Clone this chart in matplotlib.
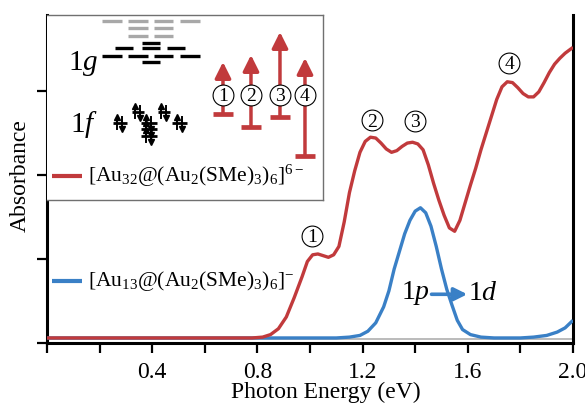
import matplotlib
matplotlib.use('Agg')

import matplotlib.pyplot as plt
import numpy as np

plt.rcParams['font.family'] = ['Liberation Serif', 'DejaVu Serif']
plt.rcParams['mathtext.fontset'] = 'custom'
plt.rcParams['mathtext.rm'] = 'Liberation Serif'
plt.rcParams['mathtext.it'] = 'Liberation Serif:italic'

# spectra (photon energy in eV, absorbance in arb. units)
red_x = [0.00, 0.40, 0.78, 0.82, 0.85, 0.88, 0.91, 0.94, 0.97, 0.99, 1.01, 1.03, 1.05,
         1.07, 1.09, 1.11, 1.13, 1.15, 1.17, 1.19, 1.21, 1.23, 1.25, 1.27, 1.29, 1.31,
         1.33, 1.35, 1.37, 1.39, 1.41, 1.43, 1.45, 1.47, 1.49, 1.51, 1.53, 1.55, 1.57,
         1.59, 1.61, 1.63, 1.65, 1.67, 1.69, 1.71, 1.73, 1.75, 1.77, 1.79, 1.81, 1.83,
         1.85, 1.87, 1.89, 1.91, 1.93, 1.95, 1.97, 2.00]
red_y = [0.06, 0.06, 0.06, 0.07, 0.10, 0.17, 0.31, 0.54, 0.79, 0.97, 1.05, 1.06, 1.04,
         1.02, 1.05, 1.15, 1.44, 1.79, 2.05, 2.27, 2.40, 2.45, 2.44, 2.38, 2.31, 2.27,
         2.29, 2.34, 2.38, 2.39, 2.37, 2.30, 2.12, 1.90, 1.70, 1.52, 1.37, 1.33, 1.46,
         1.67, 1.88, 2.08, 2.30, 2.50, 2.70, 2.90, 3.05, 3.11, 3.10, 3.04, 2.97, 2.93,
         2.93, 2.99, 3.10, 3.22, 3.32, 3.39, 3.45, 3.52]

blue_x = [0.00, 1.10, 1.15, 1.19, 1.22, 1.25, 1.28, 1.30, 1.32, 1.34, 1.36, 1.38, 1.40,
          1.42, 1.44, 1.46, 1.48, 1.50, 1.52, 1.54, 1.56, 1.58, 1.61, 1.65, 1.70, 1.80,
          1.85, 1.90, 1.94, 1.97, 2.00]
blue_y = [0.06, 0.06, 0.07, 0.09, 0.14, 0.24, 0.43, 0.62, 0.88, 1.09, 1.30, 1.46, 1.57,
          1.61, 1.55, 1.39, 1.15, 0.88, 0.64, 0.45, 0.27, 0.16, 0.10, 0.07, 0.06, 0.06,
          0.07, 0.09, 0.13, 0.18, 0.27]

peak_labels = ['1', '2', '3', '4']
peak_pos = [(1.008, 1.27), (1.236, 2.65), (1.399, 2.64), (1.757, 3.33)]

xticks = [0.0, 0.2, 0.4, 0.6, 0.8, 1.0, 1.2, 1.4, 1.6, 1.8, 2.0]
xticklabels = ['', '', '0.4', '', '0.8', '', '1.2', '', '1.6', '', '2.0']

red = '#c13a3c'
blue = '#3a80c6'

fig = plt.figure(figsize=(5.85, 4.03), dpi=100)
ax = fig.add_axes([0.0803, 0.1489, 0.8992, 0.8139])

ax.axhline(0.05, color='#b5b5b5', lw=1.3, zorder=1)
ax.plot(blue_x, blue_y, color=blue, lw=2.4, zorder=3, solid_capstyle='butt')
ax.plot(red_x, red_y, color=red, lw=2.4, zorder=4, solid_capstyle='butt')

for lab, (px, py) in zip(peak_labels, peak_pos):
    ax.plot(px, py, marker='o', ms=15, mfc='white', mec='black', mew=0.8, zorder=5)
    ax.text(px, py - 0.02, lab, ha='center', va='center', fontsize=14, zorder=6)

# 1p -> 1d transition
ax.text(1.456, 0.59, '1$p$', ha='right', va='center', fontsize=20)
ax.annotate('', xy=(1.598, 0.58), xytext=(1.462, 0.58),
            arrowprops=dict(arrowstyle='-|>,head_length=0.6,head_width=0.3',
                            color=blue, lw=2.6, mutation_scale=13, shrinkA=0, shrinkB=0))
ax.text(1.60, 0.59, '1$d$', ha='left', va='center', fontsize=20)

ax.set_xlim(0, 2.0)
ax.set_ylim(0, 3.905)
ax.set_xticks(xticks)
ax.set_xticklabels(xticklabels, fontsize=17)
ax.set_yticks([0, 1, 2, 3])
ax.set_yticklabels([])
ax.tick_params(axis='both', direction='out', length=7, width=1.6, color='black')
ax.tick_params(axis='x', pad=7)
for s in ['left', 'bottom', 'right']:
    ax.spines[s].set_linewidth(2.2)
    ax.spines[s].set_color('black')
ax.spines['top'].set_visible(False)
ax.set_xlabel('Photon Energy (eV)', fontsize=17)
ax.xaxis.set_label_coords(0.53, -0.118)
ax.set_ylabel('Absorbance', fontsize=17)
ax.yaxis.set_label_coords(-0.03, 0.51)

# blue legend entry (outside the box)
ax.plot([0.0095, 0.0665], [0.189, 0.189], color=blue, lw=3, transform=ax.transAxes,
        solid_capstyle='butt')
ax.text(0.078, 0.189, '[Au$_{13}$@(Au$_2$(SMe)$_3$)$_6$]$^{-}$', fontsize=15.5,
        va='center', ha='left', transform=ax.transAxes)

# inset box with the energy-level scheme
ins = fig.add_axes([0.0803, 0.5037, 0.4718, 0.459])
ins.set_xlim(0, 276)
ins.set_ylim(185, 0)
ins.set_facecolor('white')
ins.set_xticks([])
ins.set_yticks([])
for s in ['top', 'right', 'bottom']:
    ins.spines[s].set_color('#707070')
    ins.spines[s].set_linewidth(1.0)
ins.spines['left'].set_visible(False)

gray_levels = [(6, [(55, 75), (81, 101), (107, 126), (133, 153)]),
               (13, [(81, 101), (107, 126)]),
               (21, [(81, 101), (107, 126)])]
for yy, segs in gray_levels:
    for a, b in segs:
        ins.plot([a, b], [yy, yy], color='#a8a8a8', lw=2.4, solid_capstyle='butt')

g_levels = [(28, [(95, 113)]),
            (33, [(68, 86), (95, 113), (120, 138)]),
            (41, [(55, 75), (81, 101), (107, 126), (133, 153)]),
            (47, [(95, 113)])]
for yy, segs in g_levels:
    for a, b in segs:
        ins.plot([a, b], [yy, yy], color='black', lw=2.4, solid_capstyle='butt')
ins.text(21, 55, '1$g$', fontsize=21, ha='left', va='baseline')

f_levels = [(97, [(85, 97), (111, 123)]),
            (108, [(66, 80), (94, 110), (125, 140)]),
            (114, [(94, 110)]),
            (121, [(94, 110)])]
for yy, segs in f_levels:
    for a, b in segs:
        ins.plot([a, b], [yy, yy], color='black', lw=2.0, solid_capstyle='butt')
        c = (a + b) / 2
        ins.plot([c - 2.5, c - 2.5], [yy + 6, yy - 5], color='black', lw=1.4)
        ins.plot(c - 2.5, yy - 6, marker='^', ms=4, color='black')
        ins.plot([c + 2.5, c + 2.5], [yy - 6, yy + 5], color='black', lw=1.4)
        ins.plot(c + 2.5, yy + 6, marker='v', ms=4, color='black')
ins.text(23, 117, '1$f$', fontsize=21, ha='left', va='baseline')

trans_x = [176, 204, 233, 258]
trans_base = [99, 112, 102, 141]
trans_tip = [47, 40, 17, 43]
for lab, tx, tb, tt in zip(peak_labels, trans_x, trans_base, trans_tip):
    ins.annotate('', xy=(tx, tt), xytext=(tx, tb),
                 arrowprops=dict(arrowstyle='-|>,head_length=0.6,head_width=0.3',
                                 color=red, lw=2.5, mutation_scale=16, shrinkA=0, shrinkB=0))
    ins.plot([tx - 10, tx + 10], [tb, tb], color=red, lw=3.4, solid_capstyle='butt')
    ins.plot(tx, 80, marker='o', ms=15, mfc='white', mec='black', mew=0.8, zorder=5)
    ins.text(tx, 81, lab, ha='center', va='center', fontsize=14, zorder=6)

ins.plot([5, 35], [161, 161], color=red, lw=3, solid_capstyle='butt')
ins.text(41, 161, '[Au$_{32}$@(Au$_2$(SMe)$_3$)$_6$]$^{6-}$', fontsize=15.5,
         va='center', ha='left')

fig.savefig('out.png', dpi=100)
plt.close(fig)
